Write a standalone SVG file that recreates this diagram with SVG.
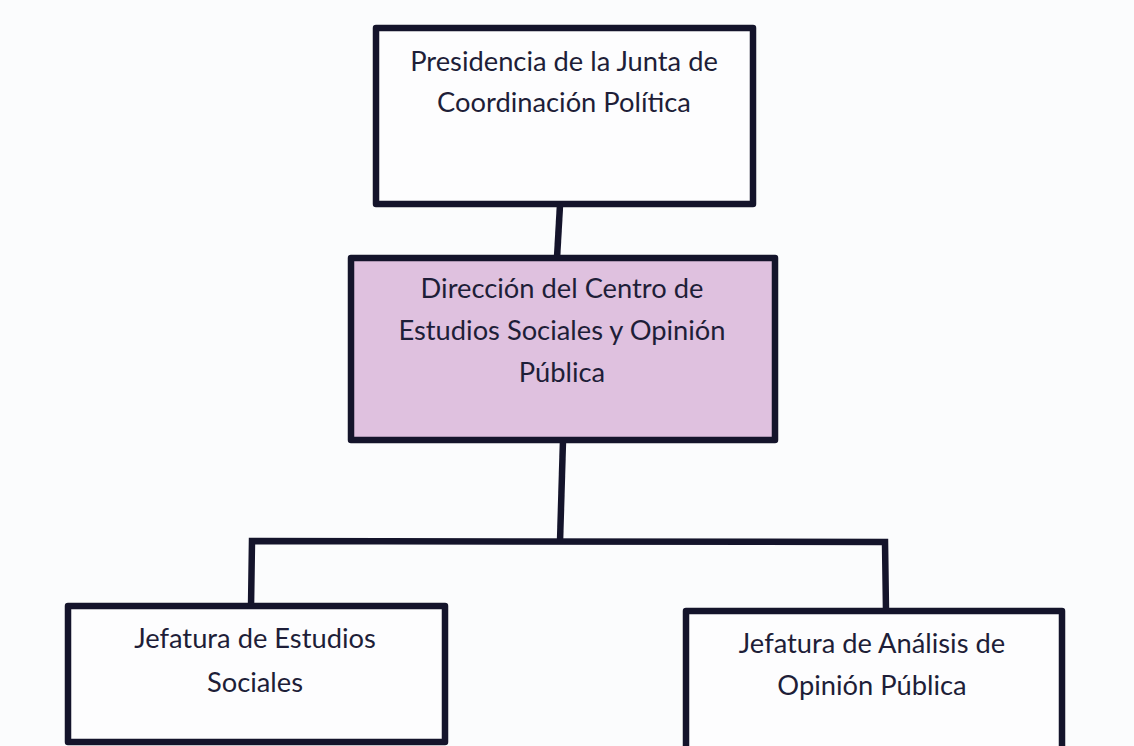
<svg xmlns="http://www.w3.org/2000/svg" width="1134" height="746" viewBox="0 0 1134 746">
<style>
.box{fill:#fdfdfe;stroke:#14142b;stroke-width:6.5;stroke-linejoin:round}
.pink{fill:#dfc1df}
.conn{fill:none;stroke:#14142b;stroke-width:6.5;stroke-linejoin:miter;stroke-linecap:butt}
text{font-family:Lato,"Open Sans","Liberation Sans",sans-serif;font-size:27.3px;fill:#1e1e38;text-anchor:middle}
</style>
<rect width="1134" height="746" fill="#fbfcfd"/>
<g id="connectors">
<line class="conn" x1="560" y1="205" x2="557" y2="258"/>
<line class="conn" x1="563" y1="440" x2="560" y2="542"/>
<polyline class="conn" points="251,607 252,541 885,542 886,611"/>
</g>
<g id="presidencia">
<rect class="box" x="376" y="28" width="377" height="176"/>
<text x="564" y="71">Presidencia de la Junta de</text>
<text x="564" y="112">Coordinación Política</text>
</g>
<g id="direccion">
<rect class="box pink" x="351" y="258" width="424" height="182"/>
<text x="562" y="298">Dirección del Centro de</text>
<text x="562" y="340">Estudios Sociales y Opinión</text>
<text x="562" y="382">Pública</text>
</g>
<g id="jefatura-estudios">
<rect class="box" x="68" y="606" width="377" height="136"/>
<text x="255" y="648">Jefatura de Estudios</text>
<text x="255" y="692">Sociales</text>
</g>
<g id="jefatura-analisis">
<rect class="box" x="686" y="611" width="376" height="150"/>
<text x="872" y="653">Jefatura de Análisis de</text>
<text x="872" y="695">Opinión Pública</text>
</g>
</svg>
